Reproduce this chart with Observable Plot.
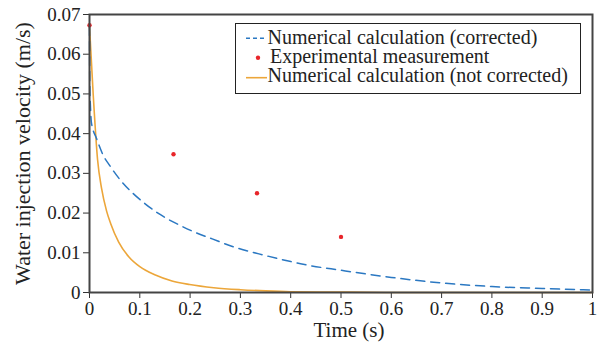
<!DOCTYPE html>
<html>
<head>
<meta charset="utf-8">
<script src="https://cdn.jsdelivr.net/npm/d3@7"></script>
<script src="https://cdn.jsdelivr.net/npm/@observablehq/plot@0.6"></script>
<style>
  html, body { margin: 0; padding: 0; background: #fff; }
  #chart { position: relative; width: 598px; height: 345px; }
</style>
</head>
<body>
<div id="chart"></div>
<script>
// Experimental measurement
const expTime = [0, 0.167, 0.333, 0.5];
const expVel = [0.0673, 0.0348, 0.025, 0.014];

// Numerical calculation (corrected)
const corTime = [0, 0.0005, 0.002, 0.004, 0.014, 0.027, 0.040, 0.064, 0.087, 0.110, 0.137, 0.180, 0.211, 0.244, 0.277, 0.347, 0.40, 0.433, 0.5, 0.6, 0.7, 0.8, 0.9, 1.0];
const corVel = [0.067, 0.053, 0.0465, 0.0426, 0.0388, 0.0346, 0.0320, 0.0279, 0.0249, 0.0224, 0.0199, 0.0169, 0.0151, 0.0135, 0.0119, 0.0094, 0.0078, 0.0069, 0.0056, 0.0038, 0.0024, 0.0015, 0.0010, 0.0006];

// Numerical calculation (not corrected)
const ncTime = [0, 0.0073, 0.016, 0.024, 0.034, 0.042, 0.058, 0.078, 0.100, 0.131, 0.164, 0.199, 0.247, 0.30, 0.35, 0.40, 0.5, 0.6, 0.8, 1.0];
const ncVel = [0.067, 0.050, 0.0335, 0.0262, 0.0205, 0.0174, 0.0127, 0.0090, 0.0065, 0.0044, 0.0029, 0.0020, 0.0012, 0.0007, 0.0004, 0.0002, 0.0001, 0, 0, 0];

const xTicks = [0, 0.1, 0.2, 0.3, 0.4, 0.5, 0.6, 0.7, 0.8, 0.9, 1];
const yTicks = [0, 0.01, 0.02, 0.03, 0.04, 0.05, 0.06, 0.07];

const legendLabels = ["Numerical calculation (corrected)", "Experimental measurement", "Numerical calculation (not corrected)"];
const xLabel = "Time (s)";
const yLabel = "Water injection velocity (m/s)";

const BLUE = "#2b78c2", RED = "#e8252a", ORANGE = "#eca63a";
const FONT = "'Liberation Serif', 'Times New Roman', serif";

const exp = expTime.map((t, i) => ({t, v: expVel[i]}));
const cor = corTime.map((t, i) => ({t, v: corVel[i]}));
const nc = ncTime.map((t, i) => ({t, v: ncVel[i]}));

const W = 598, H = 345;
const chart = Plot.plot({
  width: W,
  height: H,
  marginLeft: 89,
  marginRight: 6,
  marginTop: 14,
  marginBottom: 53,
  style: {fontFamily: FONT, background: "#fff", overflow: "visible"},
  x: {domain: [0, 1], label: null},
  y: {domain: [0, 0.07], label: null},
  marks: [
    Plot.line(nc, {x: "t", y: "v", stroke: ORANGE, strokeWidth: 1.6, curve: "monotone-x"}),
    Plot.line(cor, {x: "t", y: "v", stroke: BLUE, strokeWidth: 1.5, strokeDasharray: "9,6", curve: "monotone-x"}),
    Plot.dot(exp, {x: "t", y: "v", r: 2.2, fill: RED, stroke: null}),
    Plot.axisX({ticks: xTicks, tickSize: 6, tickFormat: d => d === 0 ? "0" : String(+d.toFixed(1)), fontSize: 19, tickPadding: 3, stroke: "#333", fill: "#222", label: null}),
    Plot.axisY({ticks: yTicks, tickSize: 6, tickFormat: d => d === 0 ? "0" : d.toFixed(2), fontSize: 19, tickPadding: 3, stroke: "#333", fill: "#222", label: null}),
    Plot.frame({stroke: "#444", strokeWidth: 2}),
    Plot.text([xLabel], {frameAnchor: "bottom", textAnchor: "middle", lineAnchor: "middle", dy: 38, dx: 8, fontSize: 21, fill: "#222"}),
    Plot.text([yLabel], {frameAnchor: "left", textAnchor: "middle", lineAnchor: "middle", dx: -67, rotate: -90, fontSize: 22, fill: "#222"})
  ]
});
document.getElementById("chart").appendChild(chart);

// Legend box drawn in the SVG
const svg = d3.select(chart);
const lg = svg.append("g").attr("font-family", FONT).attr("font-size", 20).attr("fill", "#222").attr("text-anchor", "start");
lg.append("rect").attr("x", 235.5).attr("y", 23.5).attr("width", 345).attr("height", 70).attr("fill", "#fff").attr("stroke", "#222").attr("stroke-width", 1);
const markY = [38.3, 57.7, 77.7];
const baseY = [43.5, 63, 81.5];
lg.append("line").attr("x1", 246).attr("x2", 267).attr("y1", markY[0]).attr("y2", markY[0]).attr("stroke", BLUE).attr("stroke-width", 1.5).attr("stroke-dasharray", "4,3");
lg.append("circle").attr("cx", 258).attr("cy", markY[1]).attr("r", 2.2).attr("fill", RED);
lg.append("line").attr("x1", 246).attr("x2", 267).attr("y1", markY[2]).attr("y2", markY[2]).attr("stroke", ORANGE).attr("stroke-width", 1.6);
lg.selectAll("text.lt").data(legendLabels).join("text").attr("class", "lt")
  .attr("x", (d, i) => i === 1 ? 270 : 267.5).attr("y", (d, i) => baseY[i]).attr("text-anchor", "start").text(d => d);
</script>
</body>
</html>
